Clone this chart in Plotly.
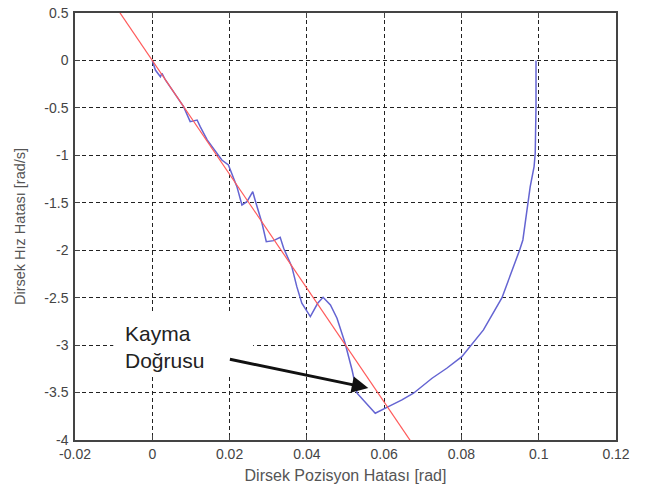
import plotly.graph_objects as go

# Sliding trajectory (blue), from initial error towards origin
traj_x = [0.0993, 0.0993, 0.0991, 0.0988, 0.0978, 0.0971, 0.0959, 0.0950, 0.0922, 0.0905,
          0.0857, 0.0825, 0.0801, 0.0762, 0.0724, 0.0676, 0.0646, 0.0611, 0.0577, 0.0530,
          0.0517, 0.0499, 0.0478, 0.0461, 0.0442, 0.0428, 0.0409, 0.0387, 0.0374, 0.0361,
          0.0340, 0.0331, 0.0314, 0.0295, 0.0284, 0.0266, 0.0260, 0.0245, 0.0232, 0.0219,
          0.0202, 0.0197, 0.0180, 0.0142, 0.0124, 0.0116, 0.0098, 0.0081, 0.0034, 0.0025,
          0.0021, 0.0008, 0.0000]
traj_y = [0.000, -0.487, -0.975, -1.120, -1.330, -1.541, -1.892, -2.005, -2.313, -2.500,
          -2.840, -2.999, -3.122, -3.244, -3.349, -3.507, -3.578, -3.649, -3.718, -3.507,
          -3.262, -2.980, -2.717, -2.577, -2.496, -2.559, -2.700, -2.559, -2.384, -2.173,
          -1.979, -1.864, -1.899, -1.910, -1.716, -1.471, -1.383, -1.488, -1.523, -1.330,
          -1.154, -1.102, -1.049, -0.838, -0.698, -0.628, -0.645, -0.487, -0.206, -0.135,
          -0.171, -0.101, 0.000]

# Sliding line (red) end points
line_x = [-0.01, 0.07]
line_y = [0.6, -4.2]

x_tickvals = [-0.02, 0, 0.02, 0.04, 0.06, 0.08, 0.1, 0.12]
x_ticktext = ["-0.02", "0", "0.02", "0.04", "0.06", "0.08", "0.1", "0.12"]
y_tickvals = [0.5, 0, -0.5, -1, -1.5, -2, -2.5, -3, -3.5, -4]
y_ticktext = ["0.5", "0", "-0.5", "-1", "-1.5", "-2", "-2.5", "-3", "-3.5", "-4"]

FONT = "Arial, Liberation Sans, sans-serif"

fig = go.Figure()
fig.add_trace(go.Scatter(x=traj_x, y=traj_y, mode="lines",
                         line=dict(color="rgb(100,100,210)", width=1.5),
                         showlegend=False, hoverinfo="skip"))
fig.add_trace(go.Scatter(x=line_x, y=line_y, mode="lines",
                         line=dict(color="rgb(255,90,90)", width=1.2),
                         showlegend=False, hoverinfo="skip"))

axis_common = dict(
    showgrid=True, gridcolor="#222", gridwidth=1, griddash="4px,3px",
    zeroline=False, showline=True, linecolor="#444", linewidth=1.5,
    mirror="ticks", ticks="inside", ticklen=5, tickcolor="#444",
    tickfont=dict(family=FONT, size=14, color="#444"),
    automargin=False, ticklabeloverflow="allow",
)

fig.update_xaxes(range=[-0.02, 0.12], tickvals=x_tickvals, ticktext=x_ticktext,
                 title=dict(text="Dirsek Pozisyon Hatası [rad]",
                            font=dict(family=FONT, size=16, color="#555"), standoff=9),
                 ticklabelstandoff=0,
                 **axis_common)
fig.update_yaxes(range=[-4, 0.5], tickvals=y_tickvals, ticktext=y_ticktext,
                 title=dict(text="Dirsek Hız Hatası [rad/s]",
                            font=dict(family=FONT, size=14.5, color="#555"), standoff=15),
                 ticklabelstandoff=2,
                 **axis_common)

# white text box covering the grid
fig.add_shape(type="rect", xref="x", yref="y", x0=-0.0101, x1=0.0261, y0=-3.336, y1=-2.65,
              fillcolor="white", line=dict(width=0), layer="between")

fig.add_annotation(x=-0.0075, y=-3.02, xref="x", yref="y", xanchor="left", yanchor="middle",
                   text="Kayma<br>Doğrusu", showarrow=False, align="left",
                   font=dict(family=FONT, size=21, color="#222"))

fig.add_annotation(x=0.0559, y=-3.452, ax=0.0197, ay=-3.146, axref="x", ayref="y",
                   xref="x", yref="y", text="", showarrow=True,
                   arrowhead=2, arrowsize=1.1, arrowwidth=3, arrowcolor="#111", standoff=0)

fig.update_layout(
    width=652, height=486,
    margin=dict(l=75, r=36, t=13, b=46),
    plot_bgcolor="white", paper_bgcolor="white",
    font=dict(family=FONT),
)

fig.write_html("out.html", config={"displayModeBar": False},
               post_script="document.body.style.margin='0';document.body.style.overflow='hidden';")
